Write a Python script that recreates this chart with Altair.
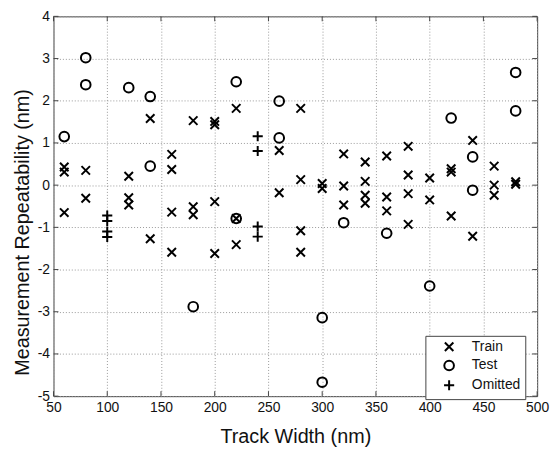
import altair as alt
import pandas as pd

# ---- data ----
train_x = [60, 60, 60, 80, 80, 120, 120, 120, 140, 140,
           160, 160, 160, 160, 180, 180, 180, 200, 200, 200, 200,
           220, 220, 220, 260, 260, 280, 280, 280, 280, 300, 300,
           320, 320, 320, 340, 340, 340, 340, 360, 360, 360,
           380, 380, 380, 380, 400, 400, 420, 420, 420, 440, 440,
           460, 460, 460, 480, 480]
train_y = [0.43, 0.31, -0.65, 0.35, -0.31, 0.21, -0.30, -0.47, 1.58, -1.27,
           0.73, 0.37, -0.64, -1.59, 1.53, -0.51, -0.70, 1.51, 1.43, -0.39, -1.62,
           1.82, -0.79, -1.41, 0.82, -0.18, 1.82, 0.13, -1.08, -1.59, 0.04, -0.08,
           0.74, -0.02, -0.47, 0.55, 0.09, -0.24, -0.43, 0.69, -0.28, -0.61,
           0.92, 0.24, -0.20, -0.93, 0.17, -0.35, 0.39, 0.31, -0.73, 1.06, -1.21,
           0.45, 0.00, -0.24, 0.08, 0.02]

test_x = [60, 80, 80, 120, 140, 140, 180, 220, 220, 260, 260,
          300, 300, 320, 360, 400, 420, 440, 440, 480, 480]
test_y = [1.15, 3.02, 2.38, 2.31, 2.10, 0.45, -2.88, 2.45, -0.79, 1.99, 1.12,
          -3.14, -4.67, -0.89, -1.14, -2.39, 1.59, 0.67, -0.12, 2.67, 1.76]

omit_x = [100, 100, 100, 100, 240, 240, 240, 240]
omit_y = [-0.72, -0.85, -1.10, -1.23, 1.16, 0.81, -0.98, -1.22]

classes = ["Train", "Test", "Omitted"]
x_ticks = [50, 100, 150, 200, 250, 300, 350, 400, 450, 500]
y_ticks = [-5, -4, -3, -2, -1, 0, 1, 2, 3, 4]

df = pd.concat([
    pd.DataFrame({"tw": train_x, "rep": train_y, "cls": "Train"}),
    pd.DataFrame({"tw": test_x, "rep": test_y, "cls": "Test"}),
    pd.DataFrame({"tw": omit_x, "rep": omit_y, "cls": "Omitted"}),
], ignore_index=True)

W, H = 489, 384
FONT = "Liberation Sans"

xpath = "M-0.88,-0.88L0.88,0.88M-0.88,0.88L0.88,-0.88"
pluspath = "M-1.05,0L1.05,0M0,-1.05L0,1.05"

xscale = alt.Scale(domain=[50, 500], nice=False, zero=False)
yscale = alt.Scale(domain=[-5, 4], nice=False, zero=False)

x_axis = alt.Axis(values=x_ticks, title="Track Width (nm)", grid=True,
                  gridDash=[1, 2], gridColor="#999", gridWidth=1,
                  ticks=False, domain=False, labelPadding=5,
                  labelFontSize=14, labelFont=FONT, labelColor="#111",
                  titleFont=FONT, titleFontSize=20, titleFontWeight="normal",
                  titleColor="#111", titleY=47, titleBaseline="alphabetic",
                  labelFlush=False)
y_axis = alt.Axis(values=y_ticks, title="Measurement Repeatability (nm)", grid=True,
                  gridDash=[1, 2], gridColor="#999", gridWidth=1,
                  ticks=False, domain=False, labelPadding=4,
                  labelFontSize=14, labelFont=FONT, labelColor="#111",
                  labelExpr="replace(datum.label, '\u2212', '-')",
                  titleFont=FONT, titleFontSize=20, titleFontWeight="normal",
                  titleColor="#111", titleX=-25, titleY=218,
                  titleBaseline="alphabetic", titleAlign="center",
                  labelFlush=False)

points = alt.Chart(df).mark_point(filled=False, strokeWidth=2, color="black", size=95, opacity=1).encode(
    x=alt.X("tw:Q", scale=xscale, axis=x_axis, title="Track Width (nm)"),
    y=alt.Y("rep:Q", scale=yscale, axis=y_axis, title="Measurement Repeatability (nm)"),
    shape=alt.Shape("cls:N",
                    scale=alt.Scale(domain=classes, range=[xpath, "circle", pluspath]),
                    legend=alt.Legend(title=None, orient="none", legendX=376, legendY=323,
                                      strokeColor="#444", fillColor="white", padding=4,
                                      labelFont=FONT, labelFontSize=14, labelColor="#111",
                                      labelExpr="datum.label + '\u00a0\u00a0\u00a0'",
                                      symbolStrokeWidth=2, symbolStrokeColor="black",
                                      symbolFillColor="transparent",
                                      symbolSize=95, symbolOffset=13, labelOffset=16,
                                      rowPadding=1, cornerRadius=0)),
)

xt = pd.DataFrame({"tw": x_ticks})
yt = pd.DataFrame({"rep": y_ticks})
tick_col = "#444"
xb = alt.Chart(xt).mark_rule(color=tick_col, strokeWidth=1).encode(
    x=alt.X("tw:Q", scale=xscale, axis=x_axis, title="Track Width (nm)"),
    y=alt.value(H), y2=alt.value(H - 5))
xtop = alt.Chart(xt).mark_rule(color=tick_col, strokeWidth=1).encode(
    x=alt.X("tw:Q", scale=xscale, axis=x_axis, title="Track Width (nm)"),
    y=alt.value(0), y2=alt.value(5))
yl = alt.Chart(yt).mark_rule(color=tick_col, strokeWidth=1).encode(
    y=alt.Y("rep:Q", scale=yscale, axis=y_axis, title="Measurement Repeatability (nm)"),
    x=alt.value(0), x2=alt.value(5))
yr = alt.Chart(yt).mark_rule(color=tick_col, strokeWidth=1).encode(
    y=alt.Y("rep:Q", scale=yscale, axis=y_axis, title="Measurement Repeatability (nm)"),
    x=alt.value(W), x2=alt.value(W - 5))

chart = alt.layer(points, xb, xtop, yl, yr).properties(
    width=W, height=H,
    autosize=alt.AutoSizeParams(type="none"),
    padding={"left": 46, "top": 6, "right": 14, "bottom": 52},
    background="white",
).configure_view(stroke="#444", strokeWidth=1)

chart.save("out.html", embed_options={"renderer": "svg", "actions": False})
